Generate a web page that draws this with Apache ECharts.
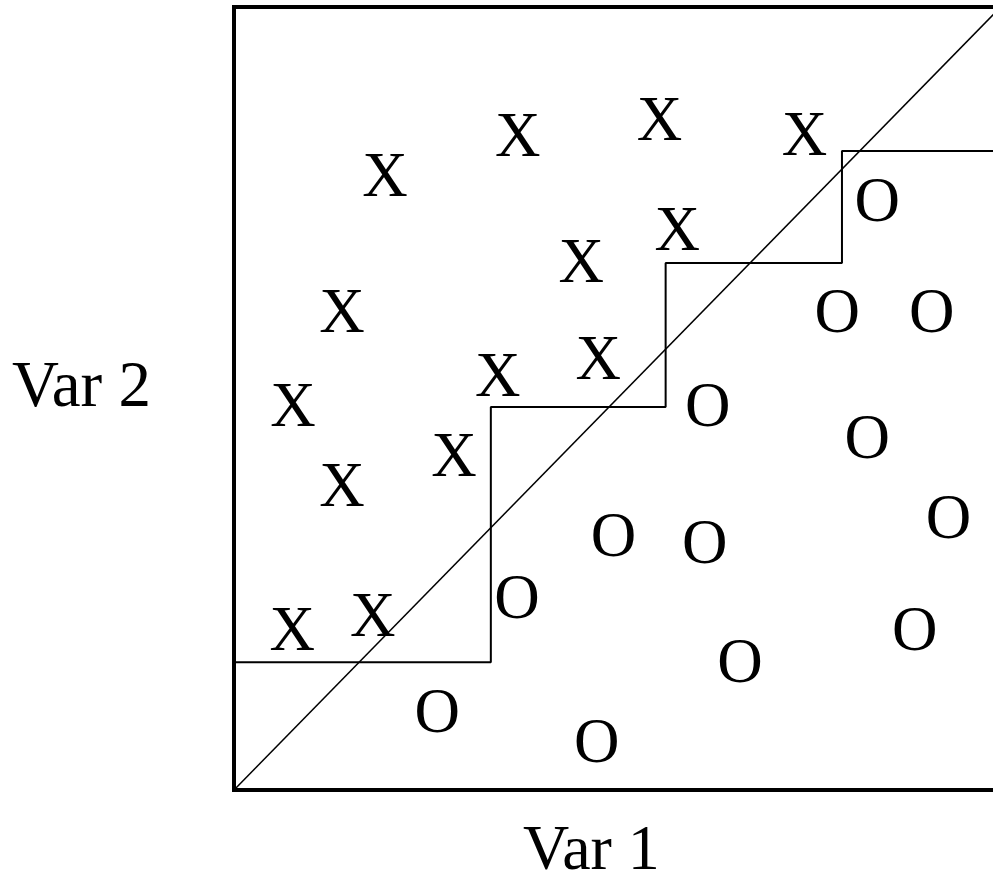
<!DOCTYPE html>
<html>
<head>
<meta charset="utf-8">
<script src="https://cdn.jsdelivr.net/npm/echarts@6/dist/echarts.min.js"></script>
<style>
  html, body { margin: 0; padding: 0; background: #fff; }
  #chart-container { width: 993px; height: 874px; }
</style>
</head>
<body>
<div id="chart-container"></div>
<script>
// points of class X (var1, var2)
var xPoints = [
  [19.7, 78.2], [37.0, 83.4], [55.5, 85.4], [74.4, 83.5], [57.8, 71.3],
  [45.3, 67.3], [14.1, 60.9], [47.5, 54.9], [7.7, 48.8], [34.4, 52.7],
  [28.7, 42.5], [14.1, 38.6], [7.6, 20.3], [18.1, 22.1]
];
// points of class O
var oPoints = [
  [83.9, 75.1], [78.7, 60.9], [91.0, 60.9], [61.8, 48.8], [82.6, 44.8],
  [93.2, 34.6], [49.5, 32.3], [61.4, 31.4], [36.9, 24.3], [88.8, 20.2],
  [66.0, 16.1], [26.5, 9.8], [47.3, 6.0]
];
// decision boundary (staircase) and diagonal
var stepLine = [
  [0, 16.3], [33.5, 16.3], [33.5, 48.9], [56.3, 48.9], [56.3, 67.3],
  [79.3, 67.3], [79.3, 81.6], [105, 81.6]
];
var diagLine = [[0, 0], [100, 100]];

var dom = document.getElementById("chart-container");
var myChart = echarts.init(dom, null, { renderer: "canvas" });

var font = "Liberation Serif";

function markerLabel(ch) {
  return {
    show: true,
    position: "inside",
    formatter: ch,
    fontFamily: font,
    fontSize: 63,
    color: "#000",
    opacity: 1,
    align: "center",
    verticalAlign: "middle",
    offset: [0, 2]
  };
}

var option = {
  animation: false,
  backgroundColor: "#fff",
  grid: {
    left: 234,
    top: 7,
    width: 805,
    height: 783,
    outerBoundsMode: "none",
    containLabel: false,
    show: true,
    borderColor: "#000",
    borderWidth: 4,
    backgroundColor: "transparent"
  },
  xAxis: {
    type: "value",
    min: 0,
    max: 105,
    axisLine: { show: false },
    axisTick: { show: false },
    axisLabel: { show: false },
    splitLine: { show: false }
  },
  yAxis: {
    type: "value",
    min: 0,
    max: 100,
    axisLine: { show: false },
    axisTick: { show: false },
    axisLabel: { show: false },
    splitLine: { show: false }
  },
  graphic: [
    {
      type: "text",
      left: 12,
      top: 356,
      style: { text: "Var 2", fontFamily: font, fontSize: 65, fill: "#000" }
    },
    {
      type: "text",
      left: 523,
      top: 820,
      style: { text: "Var 1", fontFamily: font, fontSize: 64, fill: "#000" }
    }
  ],
  series: [
    {
      type: "line",
      data: diagLine,
      symbol: "none",
      clip: false,
      lineStyle: { color: "#000", width: 1.5 }
    },
    {
      type: "line",
      data: stepLine,
      symbol: "none",
      clip: false,
      lineStyle: { color: "#000", width: 2 }
    },
    {
      type: "scatter",
      data: xPoints,
      symbolSize: 1,
      itemStyle: { color: "transparent", opacity: 1 },
      label: markerLabel("X")
    },
    {
      type: "scatter",
      data: oPoints,
      symbolSize: 1,
      itemStyle: { color: "transparent", opacity: 1 },
      label: markerLabel("O")
    }
  ]
};

myChart.setOption(option);
window.addEventListener("resize", myChart.resize);
</script>
</body>
</html>
